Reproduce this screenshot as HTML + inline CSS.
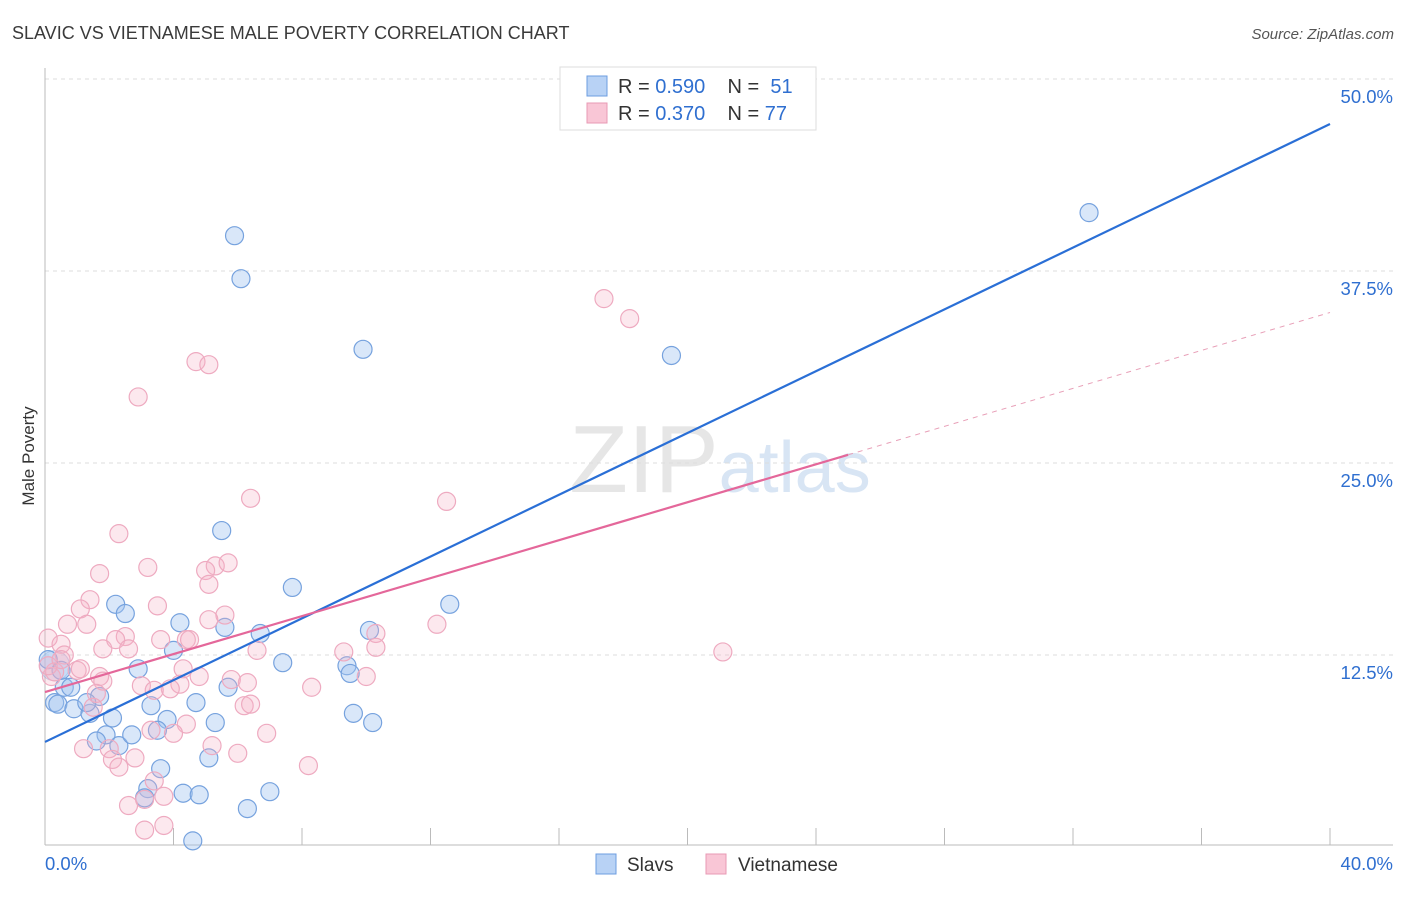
<!DOCTYPE html>
<html><head><meta charset="utf-8"><style>
body{margin:0;background:#fff;font-family:"Liberation Sans",sans-serif;}
svg text{font-family:"Liberation Sans",sans-serif;}
</style></head><body>
<svg id="chart" width="1406" height="892" xmlns="http://www.w3.org/2000/svg">
<text x="12" y="39" font-size="18" fill="#3a3a3a">SLAVIC VS VIETNAMESE MALE POVERTY CORRELATION CHART</text>
<text x="1394" y="39" font-size="15" fill="#555" text-anchor="end" font-style="italic">Source: ZipAtlas.com</text>
<text x="720" y="492" font-size="96" text-anchor="middle" fill="#e6e6e6" font-family="Liberation Serif">ZIP<tspan fill="#d8e5f4" font-family="Liberation Sans" font-size="72">atlas</tspan></text>
<g id="grid"></g><g id="axes"></g><g id="marks"></g><g id="lines"></g>
<text transform="translate(34,456) rotate(-90)" font-size="17" fill="#333" text-anchor="middle">Male Poverty</text>
<g>
<rect x="560" y="67" width="256" height="63" fill="#fff" stroke="#ddd"/>
<rect x="587" y="76" width="20" height="20" fill="#b8d2f5" stroke="#6d9de0"/>
<text x="618" y="93" font-size="20" fill="#333">R = <tspan fill="#2f6fd0">0.590</tspan>&#160;&#160;&#160;&#160;N = &#160;<tspan fill="#2f6fd0">51</tspan></text>
<rect x="587" y="103" width="20" height="20" fill="#f9c6d6" stroke="#e89ab4"/>
<text x="618" y="120" font-size="20" fill="#333">R = <tspan fill="#2f6fd0">0.370</tspan>&#160;&#160;&#160;&#160;N = <tspan fill="#2f6fd0">77</tspan></text>
</g>
<g>
<rect x="596" y="854" width="20" height="20" fill="#b8d2f5" stroke="#6d9de0"/>
<text x="627" y="871" font-size="19" fill="#333">Slavs</text>
<rect x="706" y="854" width="20" height="20" fill="#f9c6d6" stroke="#e89ab4"/>
<text x="738" y="871" font-size="19" fill="#333">Vietnamese</text>
</g>
</svg>
<script>
const slavsX=[32.5,5.9,6.1,9.9,19.5,5.5,7.7,12.6,2.2,2.5,4.2,5.6,6.7,10.1,4.0,7.4,9.4,9.5,2.9,0.1,0.6,1.7,5.7,0.3,0.4,0.9,1.4,1.3,3.3,4.7,2.1,3.8,5.3,9.6,10.2,1.9,2.3,2.7,3.5,1.6,5.1,3.6,3.2,3.1,4.3,4.8,7.0,6.3,4.6,0.8,0.5];
const slavsY=[41.3,39.8,37.0,32.4,32.0,20.6,16.9,15.8,15.8,15.2,14.6,14.3,13.9,14.1,12.8,12.0,11.8,11.3,11.6,12.2,10.4,9.8,10.4,9.4,9.3,9.0,8.7,9.4,9.2,9.4,8.4,8.3,8.1,8.7,8.1,7.3,6.6,7.3,7.6,6.9,5.8,5.1,3.8,3.2,3.5,3.4,3.6,2.5,0.4,10.4,11.5];
const vietX=[17.4,18.2,4.7,5.1,2.9,6.4,12.5,2.3,3.2,1.7,5.3,5.7,5.0,5.1,1.4,1.1,3.5,5.6,0.7,1.3,10.3,12.2,4.4,4.5,2.5,2.2,3.6,0.1,0.5,0.6,9.3,10.3,6.6,21.1,1.0,1.1,1.8,2.6,4.3,4.8,5.8,6.3,8.3,10.0,1.7,1.8,4.2,3.0,3.9,0.2,0.3,1.6,1.5,3.3,4.4,4.0,6.2,6.4,5.2,6.9,1.2,2.0,2.1,2.3,2.8,6.0,8.2,3.4,3.7,3.1,2.6,3.7,3.1,0.1,0.5,5.1,3.4];
const vietY=[35.7,34.4,31.6,31.4,29.3,22.7,22.5,20.4,18.2,17.8,18.3,18.5,18.0,17.1,16.1,15.5,15.7,15.1,14.5,14.5,13.9,14.5,13.5,13.5,13.7,13.5,13.5,13.6,13.2,12.5,12.7,13.0,12.8,12.7,11.5,11.6,12.9,12.9,11.6,11.1,10.9,10.7,10.4,11.1,11.1,10.8,10.6,10.5,10.3,11.1,11.4,10.0,9.1,7.6,8.0,7.4,9.2,9.3,6.6,7.4,6.4,6.4,5.7,5.2,5.8,6.1,5.3,4.3,3.3,3.1,2.7,1.4,1.1,11.8,12.2,14.8,10.2];
const xTicks=[0,40];
const yTicks=[12.5,25,37.5,50];
const slavsLine=[6.84,47.07];
const vietLine=[10.09,34.8];
const NS="http://www.w3.org/2000/svg";
const X=v=>45+v/40*1285;
const Y=v=>847-v/50*768;
function mk(tag,attrs,parent){const e=document.createElementNS(NS,tag);for(const k in attrs)e.setAttribute(k,attrs[k]);document.getElementById(parent).appendChild(e);return e;}
yTicks.forEach(t=>{
 const g=mk('line',{x1:45,x2:1393,y1:Y(t),y2:Y(t),stroke:'#ddd','stroke-dasharray':'4,4'},'grid');
 
 
 const l=mk('text',{x:1393,y:Y(t)+24,'font-size':18.5,fill:'#2f6fd0','text-anchor':'end'},'axes');
 l.textContent=t.toFixed(1)+'%';
 
 
});
const ax=mk('line',{x1:45,x2:1393,y1:845,y2:845,stroke:'#bbb'},'axes');


const ay=mk('line',{x1:45,x2:45,y1:68,y2:845,stroke:'#bbb'},'axes');


for(let i=0;i<=10;i++){const tk=mk('line',{x1:X(i*4),x2:X(i*4),y1:828,y2:845,stroke:'#bbb'},'axes');
 
 }
xTicks.forEach((t,i)=>{const l=mk('text',{x:i?1393:45,y:870,'font-size':18.5,fill:'#2f6fd0','text-anchor':i?'end':'start'},'axes');
 l.textContent=t.toFixed(1)+'%';
 
 });
const big=mk('circle',{cx:X(0.3),cy:Y(11.8),r:15,fill:'rgba(160,195,240,0.3)',stroke:'rgba(91,143,216,0.4)'},'marks');


slavsX.forEach((v,i)=>{const c=mk('circle',{cx:X(v),cy:Y(slavsY[i]),r:9,fill:'rgba(160,195,240,0.4)',stroke:'#76a2de','stroke-width':1.2},'marks');
 
 });
vietX.forEach((v,i)=>{const c=mk('circle',{cx:X(v),cy:Y(vietY[i]),r:9,fill:'rgba(245,180,200,0.3)',stroke:'#eeaac0','stroke-width':1.2},'marks');
 
 });
const bl=mk('line',{x1:X(0),y1:Y(slavsLine[0]),x2:X(40),y2:Y(slavsLine[1]),stroke:'#2a6fd6','stroke-width':2.2},'lines');


const vAt=x=>vietLine[0]+(vietLine[1]-vietLine[0])*x/40;
const pl=mk('line',{x1:X(0),y1:Y(vAt(0)),x2:X(25),y2:Y(vAt(25)),stroke:'#e4679a','stroke-width':2.2},'lines');


const pd=mk('line',{x1:X(25),y1:Y(vAt(25)),x2:X(40),y2:Y(vAt(40)),stroke:'#e8a0b8','stroke-width':1,'stroke-dasharray':'5,5'},'lines');


</script>
</body></html>
